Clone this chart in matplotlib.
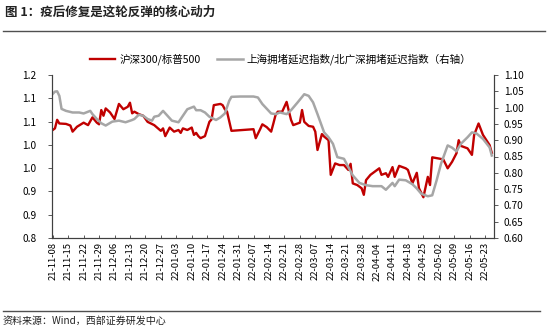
import pandas as pd
import numpy as np
import matplotlib
matplotlib.use('Agg')
import matplotlib.pyplot as plt
import matplotlib.dates as mdates
from matplotlib.lines import Line2D

plt.rcParams['font.family'] = ['Noto Sans CJK SC', 'DejaVu Sans']

# 沪深300/标普500 (左轴)
red_dates = ['2021-11-08', '2021-11-09', '2021-11-10', '2021-11-11', '2021-11-14', '2021-11-16',
             '2021-11-17', '2021-11-19', '2021-11-22', '2021-11-24', '2021-11-26', '2021-11-28',
             '2021-11-29', '2021-11-30', '2021-12-01', '2021-12-02', '2021-12-04', '2021-12-06',
             '2021-12-08', '2021-12-10', '2021-12-12', '2021-12-13', '2021-12-14', '2021-12-15',
             '2021-12-17', '2021-12-19', '2021-12-21', '2021-12-24', '2021-12-27', '2021-12-28',
             '2021-12-29', '2021-12-31', '2022-01-02', '2022-01-04', '2022-01-05', '2022-01-06',
             '2022-01-08', '2022-01-10', '2022-01-11', '2022-01-12', '2022-01-13', '2022-01-14',
             '2022-01-16', '2022-01-18', '2022-01-19', '2022-01-20', '2022-01-23', '2022-01-24',
             '2022-01-25', '2022-01-26', '2022-01-28', '2022-02-07', '2022-02-08', '2022-02-10',
             '2022-02-11', '2022-02-13', '2022-02-15', '2022-02-16', '2022-02-17', '2022-02-18',
             '2022-02-20', '2022-02-22', '2022-02-24', '2022-02-25', '2022-02-27', '2022-02-28',
             '2022-03-01', '2022-03-02', '2022-03-04', '2022-03-06', '2022-03-07', '2022-03-08',
             '2022-03-10', '2022-03-11', '2022-03-13', '2022-03-14', '2022-03-16', '2022-03-18',
             '2022-03-20', '2022-03-22', '2022-03-23', '2022-03-24', '2022-03-26', '2022-03-28',
             '2022-03-29', '2022-03-30', '2022-04-01', '2022-04-03', '2022-04-05', '2022-04-06',
             '2022-04-08', '2022-04-09', '2022-04-11', '2022-04-12', '2022-04-14', '2022-04-17',
             '2022-04-18', '2022-04-20', '2022-04-22', '2022-04-23', '2022-04-25', '2022-04-27',
             '2022-04-28', '2022-04-29', '2022-05-04', '2022-05-06', '2022-05-08', '2022-05-10',
             '2022-05-11', '2022-05-12', '2022-05-15', '2022-05-17', '2022-05-18', '2022-05-20',
             '2022-05-22', '2022-05-25', '2022-05-26']
red_vals = [1.065, 1.069, 1.090, 1.081, 1.080, 1.076,
            1.061, 1.073, 1.083, 1.077, 1.096, 1.083,
            1.079, 1.114, 1.100, 1.118, 1.108, 1.092,
            1.129, 1.116, 1.122, 1.132, 1.106, 1.110,
            1.104, 1.100, 1.085, 1.077, 1.063, 1.069,
            1.050, 1.071, 1.061, 1.065, 1.058, 1.069,
            1.065, 1.071, 1.053, 1.058, 1.050, 1.045,
            1.050, 1.085, 1.091, 1.126, 1.129, 1.126,
            1.116, 1.110, 1.063, 1.067, 1.045, 1.067,
            1.079, 1.072, 1.061, 1.081, 1.102, 1.110,
            1.110, 1.134, 1.090, 1.077, 1.081, 1.083,
            1.114, 1.085, 1.075, 1.073, 1.061, 1.016,
            1.055, 1.049, 1.040, 0.955, 0.983, 0.979,
            0.979, 0.967, 0.982, 0.934, 0.930, 0.922,
            0.906, 0.942, 0.955, 0.963, 0.971, 0.955,
            0.959, 0.950, 0.974, 0.950, 0.977, 0.971,
            0.967, 0.934, 0.960, 0.922, 0.900, 0.950,
            0.930, 0.998, 0.993, 0.971, 0.987, 1.008,
            1.040, 1.026, 1.020, 1.004, 1.053, 1.081,
            1.053, 1.028, 1.009]

# 上海拥堵延迟指数/北广深拥堵延迟指数 (右轴)
gray_dates = ['2021-11-08', '2021-11-09', '2021-11-10', '2021-11-11', '2021-11-12', '2021-11-14',
              '2021-11-17', '2021-11-20', '2021-11-22', '2021-11-25', '2021-11-26', '2021-11-28',
              '2021-11-30', '2021-12-02', '2021-12-05', '2021-12-08', '2021-12-11', '2021-12-14',
              '2021-12-15', '2021-12-17', '2021-12-19', '2021-12-21', '2021-12-23', '2021-12-24',
              '2021-12-26', '2021-12-28', '2021-12-30', '2022-01-01', '2022-01-04', '2022-01-06',
              '2022-01-08', '2022-01-11', '2022-01-12', '2022-01-14', '2022-01-16', '2022-01-18',
              '2022-01-21', '2022-01-23', '2022-01-25', '2022-01-27', '2022-01-28', '2022-02-01',
              '2022-02-07', '2022-02-09', '2022-02-11', '2022-02-15', '2022-02-17', '2022-02-19',
              '2022-02-22', '2022-02-24', '2022-02-27', '2022-03-02', '2022-03-04', '2022-03-06',
              '2022-03-08', '2022-03-11', '2022-03-13', '2022-03-15', '2022-03-17', '2022-03-20',
              '2022-03-22', '2022-03-24', '2022-03-27', '2022-03-30', '2022-04-02', '2022-04-06',
              '2022-04-08', '2022-04-11', '2022-04-12', '2022-04-14', '2022-04-17', '2022-04-20',
              '2022-04-22', '2022-04-24', '2022-04-27', '2022-04-29', '2022-05-01', '2022-05-03',
              '2022-05-06', '2022-05-08', '2022-05-10', '2022-05-12', '2022-05-15', '2022-05-17',
              '2022-05-19', '2022-05-22', '2022-05-25', '2022-05-26']
gray_vals = [1.042, 1.049, 1.050, 1.036, 0.996, 0.990,
             0.985, 0.985, 0.982, 0.990, 0.980, 0.965,
             0.952, 0.945, 0.957, 0.960, 0.955, 0.962,
             0.965, 0.978, 0.975, 0.965, 0.960, 0.972,
             0.975, 0.990, 0.975, 0.960, 0.955, 0.975,
             0.995, 1.003, 0.992, 0.992, 0.985, 0.972,
             0.962, 0.970, 0.982, 1.021, 1.033, 1.034,
             1.034, 1.031, 1.011, 0.982, 0.980, 0.985,
             0.980, 0.992, 1.016, 1.041, 1.036, 1.016,
             0.980, 0.924, 0.909, 0.889, 0.848, 0.843,
             0.817, 0.792, 0.769, 0.762, 0.759, 0.759,
             0.748, 0.769, 0.759, 0.779, 0.777, 0.765,
             0.752, 0.736, 0.728, 0.731, 0.777, 0.828,
             0.884, 0.877, 0.866, 0.889, 0.909, 0.924,
             0.921, 0.904, 0.878, 0.853]

red_label = '沪深300/标普500'
gray_label = '上海拥堵延迟指数/北广深拥堵延迟指数（右轴）'
title = '图 1：疫后修复是这轮反弹的核心动力'
source = '资料来源：Wind，西部证券研发中心'

red_x = pd.to_datetime(red_dates)
gray_x = pd.to_datetime(gray_dates)

fig = plt.figure(figsize=(5.5, 3.29), dpi=100)
ax = fig.add_axes([52 / 550, 1 - 238 / 329, (494 - 52) / 550, (238 - 75) / 329])
ax2 = ax.twinx()

ax.plot(red_x, red_vals, color='#C00000', lw=1.7, label=red_label)
ax2.plot(gray_x, gray_vals, color='#A6A6A6', lw=1.8, label=gray_label)

ax.set_ylim(0.8, 1.2)
ax.set_yticks(np.linspace(0.8, 1.2, 8))
ax.yaxis.set_major_formatter(plt.FormatStrFormatter('%.1f'))
ax2.set_ylim(0.6, 1.1)
ax2.set_yticks(np.arange(0.6, 1.1001, 0.05))
ax2.yaxis.set_major_formatter(plt.FormatStrFormatter('%.2f'))

ticks = pd.date_range('2021-11-08', '2022-05-23', freq='7D')
ax.set_xlim(pd.Timestamp('2021-11-07 16:00'), pd.Timestamp('2022-05-27'))
ax.set_xticks(ticks)
ax.xaxis.set_major_formatter(mdates.DateFormatter('%y-%m-%d'))
plt.setp(ax.get_xticklabels(), rotation=90, fontsize=6.8)

for a in (ax, ax2):
    a.spines['top'].set_visible(False)
    for s in a.spines.values():
        s.set_color('#404040')
        s.set_linewidth(0.8)
ax.tick_params(axis='y', labelsize=7.3, length=3, width=0.6, color='#404040', pad=8)
ax.tick_params(axis='x', direction='in', length=2.5, width=0.6, color='#404040', pad=3)
ax2.tick_params(axis='y', labelsize=7.3, length=3, width=0.6, color='#404040', pad=4)

h1, l1 = ax.get_legend_handles_labels()
h2, l2 = ax2.get_legend_handles_labels()
fig.legend(h1 + h2, l1 + l2, loc='center', bbox_to_anchor=(0.51, 1 - 59 / 329), ncol=2,
           frameon=False, fontsize=7.6, handlelength=2.4, columnspacing=1.6, handletextpad=0.4)

fig.text(5 / 550, 1 - 12 / 329, title, fontsize=9, fontweight='bold', va='center', ha='left', color='#222222')
fig.add_artist(Line2D([3 / 550, 545 / 550], [1 - 30.5 / 329] * 2, color='#505050', lw=1.0))
fig.add_artist(Line2D([3 / 550, 540 / 550], [1 - 311 / 329] * 2, color='#505050', lw=1.0))
fig.text(3 / 550, 1 - 321 / 329, source, fontsize=7.2, va='center', ha='left', color='#222222')

fig.savefig('out.png', dpi=100)
